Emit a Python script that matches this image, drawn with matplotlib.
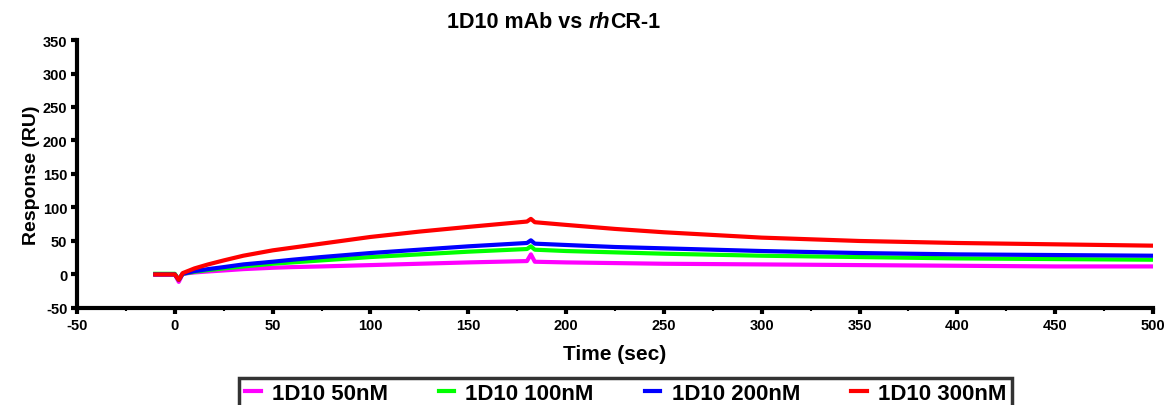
import matplotlib
matplotlib.use("Agg")
import matplotlib.pyplot as plt

plt.rcParams['font.family'] = ['Liberation Sans', 'DejaVu Sans']
plt.rcParams['font.weight'] = 'bold'
plt.rcParams['axes.unicode_minus'] = False

# time points (sec)
time = [-10, 0, 2, 4, 10, 17, 25, 35, 50, 60, 75, 100, 125, 150, 180, 182, 184,
        200, 225, 250, 300, 350, 400, 450, 500]

# response (RU) for each concentration
resp_50 = [0, 0, -11, 1, 3, 4.5, 6, 8, 10, 11, 12, 14, 16, 18, 20, 30, 19,
           18, 17, 16, 15, 14, 13, 12, 12]
resp_100 = [1, 1, -8, 1, 4, 6.5, 9, 12, 16, 18, 21, 26, 30, 34, 38, 42, 37,
            35, 33, 31, 28, 26, 24, 23, 22]
resp_200 = [0, 0, -8, 1, 5, 8, 11, 15, 19, 22, 26, 32, 37, 42, 47, 51, 46,
            44, 41, 39, 35, 32, 30, 29, 28]
resp_300 = [0, 0, -8, 2, 9, 15, 21, 28, 36, 40, 46, 56, 64, 71, 79, 83, 78,
            74, 68, 63, 55, 50, 47, 45, 43]

labels = ['1D10 50nM', '1D10 100nM', '1D10 200nM', '1D10 300nM']
colors = ['#ff00ff', '#00ff00', '#0000ff', '#ff0000']

fig = plt.figure(figsize=(11.67, 4.06), dpi=100)
ax = fig.add_axes([0.066, 0.239, 0.922, 0.66])

for y, lab, c in zip([resp_50, resp_100, resp_200, resp_300], labels, colors):
    ax.plot(time, y, color=c, lw=3, label=lab, solid_joinstyle='round')

ax.set_xlim(-50, 500)
ax.set_ylim(-50, 350)
ax.set_xticks(range(-50, 501, 50))
ax.set_xticks(range(-50, 501, 25), minor=True)
ax.set_yticks(range(-50, 351, 50))

for s in ['top', 'right']:
    ax.spines[s].set_visible(False)
for s in ['left', 'bottom']:
    ax.spines[s].set_linewidth(3)

ax.tick_params(axis='both', which='major', direction='out', length=4,
               width=3, labelsize=10.5, pad=3)
ax.tick_params(axis='x', which='minor', direction='out', length=2, width=1.5)
for t in ax.get_xticklabels() + ax.get_yticklabels():
    t.set_fontweight('bold')

ax.set_xlabel('Time (sec)', fontsize=15, fontweight='bold', labelpad=9)
ax.set_ylabel('Response (RU)', fontsize=14, fontweight='bold', labelpad=2)

# title with italic "rh"
ty = 0.93
t1 = fig.text(447 / 1167, ty, '1D10 mAb vs ', fontsize=15.5, fontweight='bold',
              ha='left', va='baseline')
t2 = fig.text(0, 0, 'rh', fontsize=15.5, fontweight='bold', style='italic')
t3 = fig.text(0, 0, 'CR-1', fontsize=15.5, fontweight='bold')
fig.canvas.draw()
r = fig.canvas.get_renderer()
W = fig.bbox.width
t2.set_position((t1.get_window_extent(r).x1 / W, ty))
t3.set_position((t2.get_window_extent(r).x1 / W, ty))

leg = fig.legend(loc='upper center', bbox_to_anchor=(0.536, 0.095), ncol=4,
                 frameon=True, fancybox=False, edgecolor='black',
                 prop={'weight': 'bold', 'size': 16}, handlelength=0.7,
                 handletextpad=0.5, columnspacing=2.3, borderpad=0.25)
leg.get_frame().set_linewidth(2.5)

fig.savefig('out.png', dpi=100)
